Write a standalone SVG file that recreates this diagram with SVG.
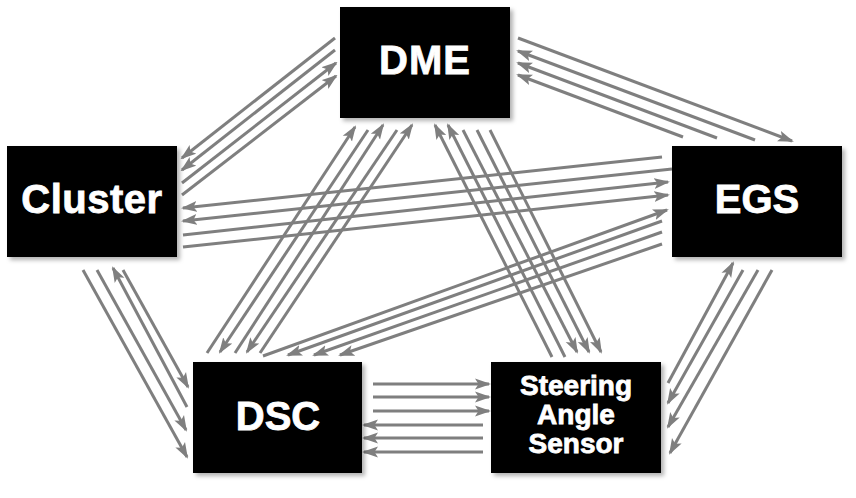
<svg xmlns="http://www.w3.org/2000/svg" width="856" height="498" viewBox="0 0 856 498">
<defs>
<marker id="ah" markerUnits="userSpaceOnUse" markerWidth="16" markerHeight="12" viewBox="0 0 16 12" refX="14" refY="6" orient="auto">
<path d="M0,0.5 L16,6 L0,11.5 L3.5,6 Z" fill="#7f7f7f"/>
</marker>
<filter id="sh" x="-10%" y="-10%" width="125%" height="130%">
<feDropShadow dx="3" dy="3" stdDeviation="2" flood-color="#000" flood-opacity="0.3"/>
</filter>
</defs>
<style>
.box{fill:#000;filter:url(#sh)}
.lbl{font-family:"Liberation Sans",Arial,Helvetica,sans-serif;font-weight:bold;fill:#fff;stroke:#fff;stroke-width:0.8;text-anchor:middle}
.c path{fill:none;stroke:#7f7f7f;stroke-width:3;stroke-linecap:butt}
.a{marker-end:url(#ah)}
</style>
<rect width="856" height="498" fill="#fff"/>
<g id="connectors" class="c">
<!-- Cluster - DME -->
<path class="a" d="M335,38 L182,158"/>
<path class="a" d="M335,50 L182,170"/>
<path class="a" d="M182,183 L336,63"/>
<path class="a" d="M182,195 L336,76"/>
<!-- DME - EGS -->
<path class="a" d="M518,38 L792,141"/>
<path class="a" d="M755,140 L518,51"/>
<path class="a" d="M717,138 L518,63"/>
<path class="a" d="M683,137 L518,75"/>
<!-- Cluster - EGS -->
<path class="a" d="M662,157 L183,208"/>
<path class="a" d="M672,169 L183,221"/>
<path class="a" d="M183,235 L668,182"/>
<path class="a" d="M183,247 L668,195"/>
<!-- Cluster - DSC -->
<path class="a" d="M83,270 L187,457"/>
<path class="a" d="M97,270 L186,430"/>
<path class="a" d="M187,407 L113,268"/>
<path class="a" d="M123,270 L188,387"/>
<!-- DSC - Steering -->
<path class="a" d="M373,384 L489,384"/>
<path class="a" d="M373,397 L489,397"/>
<path class="a" d="M373,411 L489,411"/>
<path class="a" d="M483,425 L364,425"/>
<path class="a" d="M483,438 L364,438"/>
<path class="a" d="M483,452 L364,452"/>
<!-- EGS - Steering -->
<path class="a" d="M668,383 L733,263"/>
<path class="a" d="M743,270 L668,403"/>
<path class="a" d="M758,270 L668,427"/>
<path class="a" d="M772,270 L670,453"/>
<!-- DME - DSC -->
<path class="a" d="M207,353 L355,127"/>
<path class="a" d="M368,130 L220,352"/>
<path class="a" d="M235,353 L383,125"/>
<path class="a" d="M397,130 L247,352"/>
<path class="a" d="M260,353 L412,125"/>
<!-- DME - Steering -->
<path class="a" d="M552,357 L435,125"/>
<path class="a" d="M565,357 L448,125"/>
<path class="a" d="M463,130 L577,352"/>
<path class="a" d="M477,130 L589,352"/>
<path class="a" d="M490,130 L601,352"/>
<!-- DSC - EGS -->
<path class="a" d="M263,356 L667,210"/>
<path class="a" d="M662,221 L288,355"/>
<path class="a" d="M662,232 L314,355"/>
<path class="a" d="M662,244 L340,355"/>
</g>
<g id="dme"><rect class="box" x="340" y="7" width="170" height="111"/><text class="lbl" x="425" y="74" font-size="40" letter-spacing="1">DME</text></g>
<g id="cluster"><rect class="box" x="7" y="146" width="170" height="111"/><text class="lbl" x="92" y="213" font-size="40" letter-spacing="0.5">Cluster</text></g>
<g id="egs"><rect class="box" x="672" y="146" width="170" height="111"/><text class="lbl" x="757" y="213" font-size="40">EGS</text></g>
<g id="dsc"><rect class="box" x="193" y="362" width="169" height="111"/><text class="lbl" x="278" y="430" font-size="40">DSC</text></g>
<g id="sas"><rect class="box" x="491" y="362" width="170" height="111"/><text class="lbl" x="576" y="395" font-size="28">Steering</text><text class="lbl" x="576" y="424" font-size="28">Angle</text><text class="lbl" x="576" y="453" font-size="28">Sensor</text></g>
</svg>
